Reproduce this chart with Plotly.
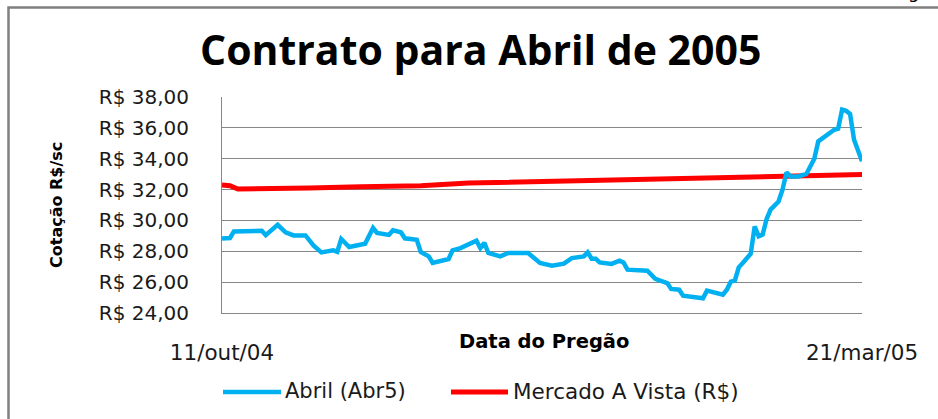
import plotly.graph_objects as go

# ---------------- data ----------------
ABRIL_DATES = [
    "2004-10-11", "2004-10-13", "2004-10-14", "2004-10-18", "2004-10-20", "2004-10-21",
    "2004-10-22", "2004-10-24", "2004-10-25", "2004-10-27", "2004-10-29", "2004-11-01",
    "2004-11-03", "2004-11-05", "2004-11-08", "2004-11-09", "2004-11-10", "2004-11-12",
    "2004-11-16", "2004-11-18", "2004-11-19", "2004-11-22", "2004-11-23", "2004-11-25",
    "2004-11-26", "2004-11-29", "2004-11-30", "2004-12-02", "2004-12-03", "2004-12-07",
    "2004-12-08", "2004-12-10", "2004-12-11", "2004-12-14", "2004-12-15", "2004-12-16",
    "2004-12-17", "2004-12-20", "2004-12-22", "2004-12-27", "2004-12-30", "2005-01-01",
    "2005-01-02", "2005-01-05", "2005-01-07", "2005-01-10", "2005-01-11", "2005-01-12",
    "2005-01-13", "2005-01-14", "2005-01-17", "2005-01-19", "2005-01-20", "2005-01-21",
    "2005-01-26", "2005-01-28", "2005-01-31", "2005-02-01", "2005-02-03", "2005-02-04",
    "2005-02-06", "2005-02-09", "2005-02-10", "2005-02-12", "2005-02-14", "2005-02-15",
    "2005-02-16", "2005-02-17", "2005-02-18", "2005-02-19", "2005-02-21", "2005-02-22",
    "2005-02-23", "2005-02-24", "2005-02-25", "2005-02-26", "2005-02-28", "2005-03-01",
    "2005-03-02", "2005-03-03", "2005-03-05", "2005-03-07", "2005-03-08", "2005-03-09",
    "2005-03-10", "2005-03-12", "2005-03-14", "2005-03-15", "2005-03-16", "2005-03-17",
    "2005-03-18", "2005-03-19", "2005-03-21",
]
ABRIL_VALUES = [
    28.82, 28.86, 29.29, 29.29, 29.36, 29.33,
    29.05, 29.46, 29.72, 29.23, 29.03, 29.03,
    28.38, 27.93, 28.06, 27.97, 28.80, 28.28,
    28.49, 29.51, 29.19, 29.06, 29.36, 29.23,
    28.84, 28.75, 27.95, 27.67, 27.24, 27.50,
    28.06, 28.21, 28.32, 28.69, 28.21, 28.54,
    27.89, 27.67, 27.89, 27.89, 27.24, 27.11,
    27.07, 27.20, 27.56, 27.67, 27.93, 27.52,
    27.52, 27.28, 27.18, 27.39, 27.28, 26.81,
    26.74, 26.22, 25.94, 25.56, 25.51, 25.12,
    25.04, 24.95, 25.45, 25.34, 25.19, 25.51,
    26.03, 26.10, 26.96, 27.24, 27.84, 29.61,
    28.97, 29.08, 30.09, 30.70, 31.23, 31.99,
    33.11, 32.85, 32.85, 33.01, 33.50, 34.00,
    35.12, 35.49, 35.88, 35.95, 37.18, 37.11,
    36.90, 35.23, 33.83,
]

MERCADO_DATES = [
    "2004-10-11", "2004-10-13", "2004-10-15", "2004-10-25", "2004-11-02", "2004-11-15",
    "2004-11-30", "2004-12-12", "2005-01-01", "2005-01-16", "2005-02-05", "2005-02-18",
    "2005-03-07", "2005-03-21",
]
MERCADO_VALUES = [
    32.30, 32.25, 32.04, 32.04, 32.10, 32.19,
    32.25, 32.42, 32.53, 32.62, 32.72, 32.80,
    32.90, 32.97,
]

Y_TICK_VALUES = [24, 26, 28, 30, 32, 34, 36, 38]
Y_TICK_LABELS = ["R$ 24,00", "R$ 26,00", "R$ 28,00", "R$ 30,00",
                 "R$ 32,00", "R$ 34,00", "R$ 36,00", "R$ 38,00"]
X_TICK_DATES = ["2004-10-11", "2005-03-21"]
X_TICK_LABELS = ["11/out/04", "21/mar/05"]

SERIES_NAMES = ["Abril (Abr5)", "Mercado A Vista (R$)"]
TITLE = "Contrato para Abril de 2005"
X_TITLE = "Data do Pregão"
Y_TITLE = "Cotação R$/sc"

# ---------------- layout geometry ----------------
W, H = 938, 419
PL, PR, PT, PB = 222, 862, 97, 313   # plot area in pixels

def px_x(px):
    return (px - PL) / (PR - PL)

def px_y(py):
    return (PB - py) / (PB - PT)

BLUE = "#00B0F0"
RED = "#FF0000"
GRID = "#878787"
TXT = "#1a1a1a"
FONT = "DejaVu Sans"

fig = go.Figure()
fig.add_trace(go.Scatter(x=MERCADO_DATES, y=MERCADO_VALUES, mode="lines",
                         name=SERIES_NAMES[1],
                         line=dict(color=RED, width=5)))
fig.add_trace(go.Scatter(x=ABRIL_DATES, y=ABRIL_VALUES, mode="lines",
                         name=SERIES_NAMES[0],
                         line=dict(color=BLUE, width=4.5)))

shapes = [
    # outer frame
    dict(type="rect", xref="paper", yref="paper",
         x0=px_x(8.5), x1=px_x(950), y0=px_y(7.5), y1=px_y(440),
         line=dict(color="#808080", width=2.5), layer="below"),
    # legend samples
    dict(type="line", xref="paper", yref="paper",
         x0=px_x(223), x1=px_x(281), y0=px_y(392), y1=px_y(392),
         line=dict(color=BLUE, width=4.5)),
    dict(type="line", xref="paper", yref="paper",
         x0=px_x(451), x1=px_x(508), y0=px_y(392), y1=px_y(392),
         line=dict(color=RED, width=5)),
]

annotations = [
    dict(text=TITLE, xref="paper", yref="paper", x=px_x(480), y=px_y(49),
         xanchor="center", yanchor="middle", showarrow=False,
         font=dict(family="Open Sans", size=41, color="#000000", weight="bold")),
    dict(text=Y_TITLE, xref="paper", yref="paper", x=px_x(56), y=px_y(205),
         xanchor="center", yanchor="middle", showarrow=False, textangle=-90,
         font=dict(family=FONT, size=16, color="#000000", weight="bold")),
    dict(text=X_TITLE, xref="paper", yref="paper", x=px_x(544), y=px_y(341),
         xanchor="center", yanchor="middle", showarrow=False,
         font=dict(family=FONT, size=19.5, color="#000000", weight="bold")),
    dict(text=SERIES_NAMES[0], xref="paper", yref="paper", x=px_x(283), y=px_y(391),
         xanchor="left", yanchor="middle", showarrow=False,
         font=dict(family=FONT, size=21, color=TXT)),
    dict(text=SERIES_NAMES[1], xref="paper", yref="paper", x=px_x(511), y=px_y(391),
         xanchor="left", yanchor="middle", showarrow=False,
         font=dict(family=FONT, size=21.5, color=TXT)),
    dict(text="g", xref="paper", yref="paper", x=px_x(913), y=px_y(-9),
         xanchor="center", yanchor="middle", showarrow=False,
         font=dict(family=FONT, size=18, color="#000000")),
]

fig.update_layout(
    width=W, height=H,
    margin=dict(l=PL, r=W - PR, t=PT, b=H - PB, pad=0),
    paper_bgcolor="#ffffff", plot_bgcolor="#ffffff",
    showlegend=False,
    shapes=shapes,
    annotations=annotations,
    font=dict(family=FONT, color=TXT),
)

fig.update_xaxes(
    type="date",
    range=[X_TICK_DATES[0], X_TICK_DATES[1]],
    tickvals=X_TICK_DATES, ticktext=X_TICK_LABELS,
    showgrid=False, zeroline=False,
    showline=True, linecolor=GRID, linewidth=1,
    ticks="", ticklabelstandoff=20,
    tickfont=dict(family=FONT, size=21.5, color=TXT),
)
fig.update_yaxes(
    range=[24, 38],
    tickvals=Y_TICK_VALUES, ticktext=Y_TICK_LABELS,
    showgrid=True, gridcolor=GRID, gridwidth=1,
    zeroline=False,
    showline=True, linecolor=GRID, linewidth=1,
    ticks="", ticklabelstandoff=28,
    tickfont=dict(family=FONT, size=20, color=TXT),
)

fig.write_html(
    "out.html",
    config={"displayModeBar": False},
    post_script="document.body.style.margin='0px';document.body.style.padding='0px';",
)
